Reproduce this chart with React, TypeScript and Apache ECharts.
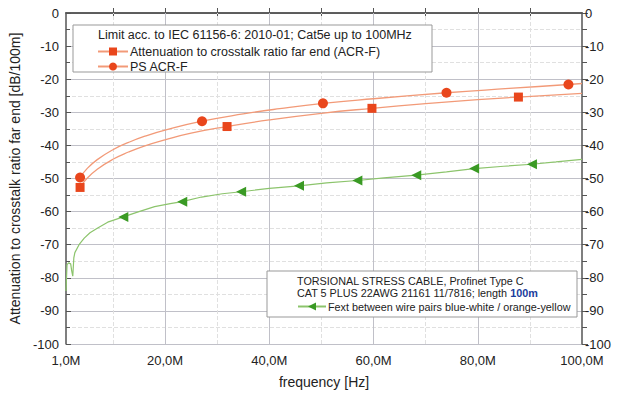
import React, { useEffect, useRef } from "react";
import * as echarts from "echarts";

const acrF: [number, number][] = [
  [3.7, -52.7], [5, -50], [7, -47.2], [10, -44.2], [13, -42], [16, -40.2], [20, -38.3],
  [25, -36.3], [31.9, -34.3], [40, -32.3], [50, -30.3], [59.7, -28.8], [70, -27.4],
  [80, -26.2], [87.8, -25.4], [100, -24.3],
];
const acrFMarkers = [3.7, 31.9, 59.7, 87.8];

const psAcrF: [number, number][] = [
  [3.7, -49.7], [5, -47.1], [7, -44.3], [10, -41.3], [13, -39.1], [16, -37.3], [20, -35.4],
  [27.1, -32.7], [35, -30.5], [42, -28.9], [50.3, -27.3], [60, -25.9], [74, -24.1],
  [86, -22.8], [97.4, -21.6], [100, -21.3],
];
const psAcrFMarkers = [3.7, 27.1, 50.3, 74, 97.4];

const fext: [number, number][] = [
  [1.0, -84], [1.1, -80], [1.2, -76], [1.5, -75.5], [1.9, -75.8], [2.1, -78], [2.3, -79.5],
  [2.5, -74], [2.7, -72.4], [3.5, -70], [4.5, -68], [5.6, -66.4], [7, -65], [9, -63.2],
  [12, -61.6], [15, -60], [18, -58.5], [21, -57.6], [23.3, -57], [27, -55.6], [31, -54.6],
  [34.6, -54], [40, -53], [45.7, -52.2], [51, -51.3], [56.9, -50.6], [62, -49.8],
  [68.2, -49], [74, -48], [79.3, -47], [85, -46.3], [90.4, -45.7], [95, -45], [100, -44.2],
];
const fextMarkers = [12, 23.3, 34.6, 45.7, 56.9, 68.2, 79.3, 90.4];

const xLabelValues = [1, 20, 40, 60, 80, 100];
const xTickValues = [10, 20, 30, 40, 50, 60, 70, 80, 90];
const xMajorGrid = [20, 40, 60, 80];
const xMinorGrid = [10, 30, 50, 70, 90];

const withMarkers = (pts: [number, number][], marks: number[]) =>
  pts.map((p) => (marks.includes(p[0]) ? { value: p } : { value: p, symbol: "none" }));

const FONT = "Liberation Sans, Arial, sans-serif";

export default function App() {
  const ref = useRef<HTMLDivElement>(null);
  useEffect(() => {
    if (!ref.current) return;
    const chart = echarts.init(ref.current, undefined, { renderer: "svg" });
    const axisLine = { show: true, lineStyle: { color: "#555", width: 1.5 } };
    const labelStyle = { color: "#222", fontSize: 13, fontFamily: FONT };
    const yBase = {
      type: "value" as const,
      min: -100,
      max: 0,
      interval: 10,
      axisLine,
    };
    chart.setOption({
      animation: false,
      textStyle: { fontFamily: FONT },
      grid: { left: 66, right: 52, top: 13, bottom: 50, containLabel: false },
      xAxis: [
        {
          type: "value",
          min: 1,
          max: 100,
          position: "bottom",
          axisLine,
          axisTick: { show: true, inside: true, length: 5, customValues: xTickValues, lineStyle: { color: "#555" } },
          axisLabel: {
            ...labelStyle,
            customValues: xLabelValues,
            margin: 10,
            formatter: (v: number) => v.toFixed(1).replace(".", ",") + "M",
          },
          splitLine: { show: false },
          name: "frequency [Hz]",
          nameLocation: "middle",
          nameGap: 31,
          nameTextStyle: { color: "#222", fontSize: 14, fontFamily: FONT },
        },
        {
          type: "value",
          min: 1,
          max: 100,
          position: "top",
          axisLine,
          axisTick: { show: true, inside: true, length: 5, customValues: xTickValues, lineStyle: { color: "#555" } },
          axisLabel: { show: false },
          splitLine: { show: false },
        },
      ],
      yAxis: [
        {
          ...yBase,
          position: "left",
          axisTick: { show: true, inside: true, length: 5, lineStyle: { color: "#555" } },
          minorTick: { show: true, splitNumber: 2, length: 4, lineStyle: { color: "#555" } },
          splitLine: { show: true, lineStyle: { color: "#c0c0c8", width: 1 } },
          minorSplitLine: { show: true, lineStyle: { color: "#e0e0e0", type: "dashed", width: 1 } },
          axisLabel: { ...labelStyle, margin: 7 },
          name: "Attenuation to crosstalk ratio far end [dB/100m]",
          nameLocation: "middle",
          nameGap: 36,
          nameRotate: 90,
          nameTextStyle: { color: "#222", fontSize: 14, fontFamily: FONT },
        },
        {
          ...yBase,
          position: "right",
          axisTick: { show: true, inside: false, length: 6, lineStyle: { color: "#555" } },
          minorTick: { show: true, splitNumber: 2, length: 5, lineStyle: { color: "#555" } },
          splitLine: { show: false },
          axisLabel: { ...labelStyle, margin: 3 },
        },
      ],
      legend: [
        {
          left: 92,
          top: 40,
          orient: "vertical",
          itemGap: 2,
          itemWidth: 30,
          itemHeight: 10,
          z: 20,
          textStyle: { color: "#222", fontSize: 12.5, fontFamily: FONT, padding: [0, 0, 0, -3] },
          data: ["Attenuation to crosstalk ratio far end (ACR-F)", "PS ACR-F"],
        },
        {
          left: 292,
          top: 296,
          orient: "vertical",
          itemWidth: 28,
          itemHeight: 10,
          z: 20,
          textStyle: { color: "#222", fontSize: 10.8, fontFamily: FONT, padding: [0, 0, 0, -3] },
          data: ["Fext between wire pairs blue-white / orange-yellow"],
        },
      ],
      graphic: [
        {
          type: "rect",
          z: 10,
          shape: { x: 73, y: 25, width: 359, height: 47 },
          style: { fill: "#fff", stroke: "#999", lineWidth: 1 },
        },
        {
          type: "text",
          z: 11,
          x: 98,
          y: 28,
          style: { text: "Limit acc. to IEC 61156-6: 2010-01; Cat5e up to 100MHz", fill: "#222", fontSize: 12.5, fontFamily: FONT },
        },
        {
          type: "rect",
          z: 10,
          shape: { x: 267, y: 271, width: 310, height: 46 },
          style: { fill: "#fff", stroke: "#999", lineWidth: 1 },
        },
        {
          type: "text",
          z: 11,
          x: 297,
          y: 275,
          style: { text: "TORSIONAL STRESS CABLE, Profinet Type C", fill: "#222", fontSize: 10.8, fontFamily: FONT },
        },
        {
          type: "text",
          z: 11,
          x: 297,
          y: 287,
          style: {
            text: "{a|CAT 5 PLUS 22AWG 21161 11/7816; length }{b|100m}",
            fill: "#222",
            fontSize: 10.8,
            fontFamily: FONT,
            rich: {
              a: { fill: "#222", fontSize: 10.8, fontFamily: FONT },
              b: { fill: "#1a3c9c", fontSize: 10.8, fontFamily: FONT, fontWeight: "bold" },
            },
          },
        },
      ],
      series: [
        {
          name: "Attenuation to crosstalk ratio far end (ACR-F)",
          type: "line",
          smooth: true,
          symbol: "rect",
          symbolSize: 9,
          showSymbol: true,
          z: 3,
          lineStyle: { color: "#f29a78", width: 1.3 },
          itemStyle: { color: "#e9461c" },
          data: withMarkers(acrF, acrFMarkers),
        },
        {
          name: "PS ACR-F",
          type: "line",
          smooth: true,
          symbol: "circle",
          symbolSize: 10,
          showSymbol: true,
          z: 3,
          lineStyle: { color: "#f29a78", width: 1.3 },
          itemStyle: { color: "#e9461c" },
          data: withMarkers(psAcrF, psAcrFMarkers),
        },
        {
          name: "Fext between wire pairs blue-white / orange-yellow",
          type: "line",
          smooth: false,
          symbol: "triangle",
          symbolSize: 10,
          symbolRotate: 90,
          showSymbol: true,
          z: 3,
          lineStyle: { color: "#8cc46c", width: 1.2 },
          itemStyle: { color: "#3a9a24" },
          data: withMarkers(fext, fextMarkers),
          markLine: {
            silent: true,
            symbol: "none",
            label: { show: false },
            z: 1,
            data: [
              ...xMajorGrid.map((v) => ({ xAxis: v, lineStyle: { color: "#c0c0c8", width: 1, type: "solid" } })),
              ...xMinorGrid.map((v) => ({ xAxis: v, lineStyle: { color: "#e0e0e0", width: 1, type: "dashed" } })),
            ],
          },
        },
      ],
    });
    return () => chart.dispose();
  }, []);
  return <div ref={ref} style={{ width: 634, height: 394, position: "absolute", left: 0, top: 0 }} />;
}
